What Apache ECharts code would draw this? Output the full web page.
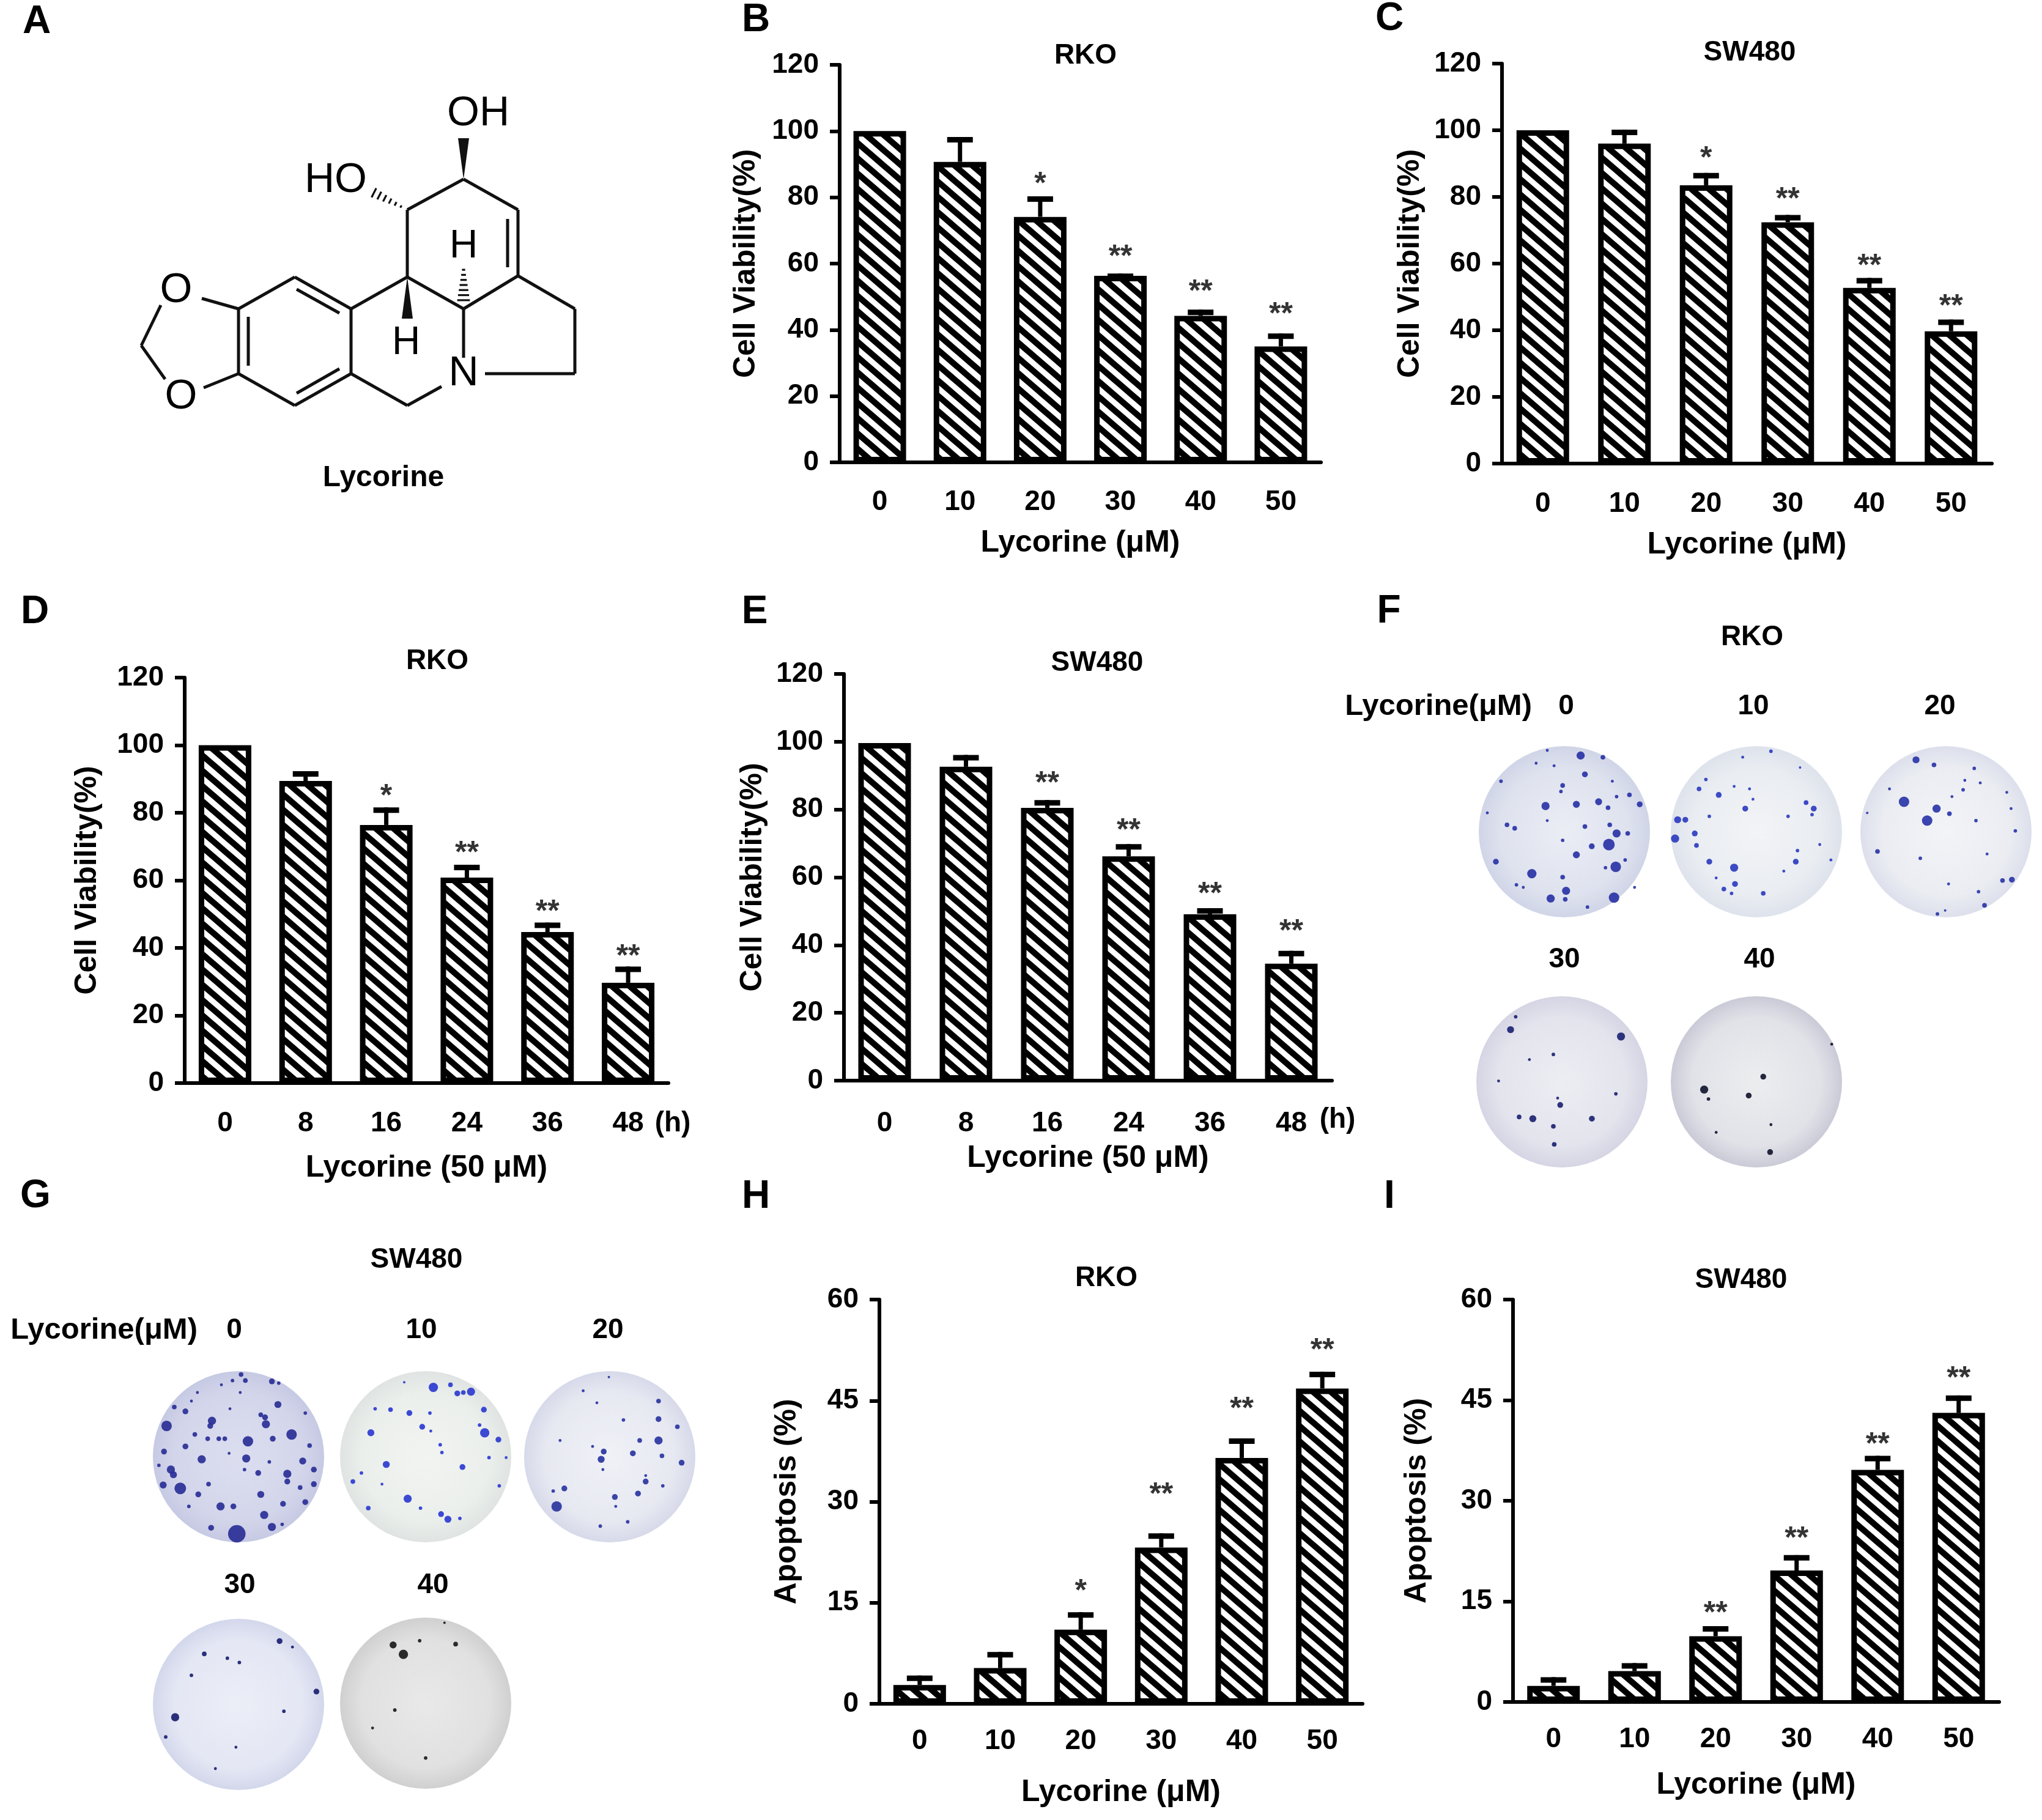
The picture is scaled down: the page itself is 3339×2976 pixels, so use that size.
<!DOCTYPE html>
<html>
<head>
<meta charset="utf-8">
<script src="https://cdn.jsdelivr.net/npm/echarts@6/dist/echarts.min.js"></script>
<style>html,body{margin:0;padding:0;background:#fff}#c{width:3339px;height:2976px}</style>
</head>
<body>
<div id="c"></div>
<script>
// ---------------- DATA ----------------
const doseCats = ['0', '10', '20', '30', '40', '50'];
const hourCats = ['0', '8', '16', '24', '36', '48'];

// B: RKO viability vs dose
const rkoDoseViab = [100, 90.7, 74.1, 56.3, 44.2, 35.0];
const rkoDoseViabSem = [0, 7.5, 6.2, 0.7, 1.9, 3.9];
const rkoDoseViabStars = ['', '', '*', '**', '**', '**'];
const rkoDoseViabStarAt = [null, null, 85.9, 64.1, 53.5, 46.7];

// C: SW480 viability vs dose
const swDoseViab = [100, 96.0, 83.5, 72.4, 52.7, 39.7];
const swDoseViabSem = [0, 4.2, 3.7, 2.2, 3.0, 3.5];
const swDoseViabStars = ['', '', '*', '**', '**', '**'];
const swDoseViabStarAt = [null, null, 93.5, 81.3, 61.2, 49.2];

// D: RKO viability vs time
const rkoTimeViab = [100, 89.4, 76.4, 60.8, 44.7, 29.7];
const rkoTimeViabSem = [0, 2.9, 5.2, 3.8, 2.8, 4.8];
const rkoTimeViabStars = ['', '', '*', '**', '**', '**'];
const rkoTimeViabStarAt = [null, null, 86.8, 70.0, 52.7, 39.5];

// E: SW480 viability vs time
const swTimeViab = [99.6, 92.6, 80.5, 66.2, 49.1, 34.5];
const swTimeViabSem = [0, 3.5, 2.3, 3.6, 1.8, 3.8];
const swTimeViabStars = ['', '', '**', '**', '**', '**'];
const swTimeViabStarAt = [null, null, 89.7, 75.7, 56.9, 46.0];

// H: RKO apoptosis vs dose
const rkoApop = [2.8, 5.3, 11.0, 23.2, 36.5, 46.8];
const rkoApopSem = [1.4, 2.4, 2.6, 2.1, 2.9, 2.5];
const rkoApopStars = ['', '', '*', '**', '**', '**'];
const rkoApopStarAt = [null, null, 17.7, 32.0, 44.7, 53.4];

// I: SW480 apoptosis vs dose
const swApop = [2.4, 4.6, 9.8, 19.6, 34.6, 43.1];
const swApopSem = [1.3, 1.2, 1.5, 2.3, 2.1, 2.6];
const swApopStars = ['', '', '**', '**', '**', '**'];
const swApopStarAt = [null, null, 14.2, 25.3, 39.4, 49.2];

// Colony plates: [x, y, diameter] in plate-relative units (x,y in -1..1, diameter as read)
const plateDoseLabels = ['0', '10', '20', '30', '40'];
const rkoCol0 = [[0.19,-0.89,14],[0.45,-0.87,8],[-0.20,-0.95,5],[0.24,-0.67,10],[-0.02,-0.54,8],[-0.04,-0.47,6],[-0.74,-0.59,6],[-0.22,-0.30,14],[0.14,-0.32,12],[0.40,-0.35,12],[0.51,-0.28,8],[0.61,-0.41,6],[0.76,-0.43,8],[0.88,-0.32,10],[-0.67,-0.08,8],[-0.58,-0.04,8],[0.24,-0.06,8],[0.53,-0.08,8],[0.74,0.02,8],[0.61,0.02,14],[0.52,0.15,20],[0.32,0.17,10],[0.14,0.27,12],[-0.02,0.10,6],[-0.80,0.35,10],[-0.38,0.49,16],[-0.02,0.53,8],[0.60,0.41,18],[0.58,0.77,18],[0.02,0.69,14],[-0.16,0.78,14],[0.01,0.79,8],[-0.56,0.62,6],[-0.48,0.65,5],[0.27,0.88,6],[0.71,0.33,6],[-0.20,-0.13,5],[0.48,0.42,6],[-0.12,-0.77,5],[0.56,-0.59,5],[-0.90,-0.22,5],[-0.33,-0.80,5],[0.82,0.65,5]];
const rkoCol10 = [[0.17,-0.94,6],[-0.16,-0.87,5],[-0.59,-0.61,6],[-0.67,-0.50,8],[-0.44,-0.43,10],[-0.26,-0.53,5],[-0.13,-0.27,10],[-0.04,-0.38,5],[0.58,-0.34,8],[0.67,-0.27,10],[0.65,-0.20,6],[-0.92,-0.14,12],[-0.83,-0.14,10],[-0.95,0.08,14],[-0.72,0.02,10],[-0.70,0.16,8],[-0.55,-0.18,6],[-0.55,0.35,10],[-0.26,0.42,14],[-0.25,0.61,10],[-0.38,0.67,8],[-0.29,0.72,6],[0.08,0.72,8],[0.46,0.35,10],[0.48,0.22,6],[0.37,-0.18,6],[0.74,0.15,5],[0.32,0.46,5],[0.87,0.33,5],[-0.47,0.54,5],[-0.08,-0.50,5],[0.51,-0.75,4]];
const rkoCol20 = [[-0.35,-0.84,12],[-0.14,-0.78,8],[0.33,-0.74,6],[-0.49,-0.35,18],[-0.11,-0.27,14],[-0.22,-0.13,18],[0.04,-0.21,8],[0.20,-0.49,6],[0.22,-0.60,5],[0.07,-0.41,5],[0.40,-0.57,5],[0.71,-0.46,5],[0.35,-0.13,6],[0.81,-0.01,6],[0.76,-0.27,5],[-0.80,0.23,8],[-0.30,0.31,6],[0.48,0.26,5],[0.66,0.57,8],[0.77,0.56,10],[0.03,0.61,5],[0.38,0.70,6],[0.45,0.86,8],[-0.10,0.96,6],[-0.66,-0.50,5],[-0.92,-0.22,4],[-0.01,0.92,4]];
const rkoCol30 = [[-0.54,-0.76,6],[-0.60,-0.61,12],[0.69,-0.53,14],[-0.10,-0.32,6],[-0.38,-0.26,5],[-0.74,-0.01,5],[0.63,0.14,6],[-0.02,0.27,10],[-0.05,0.19,5],[-0.50,0.41,8],[-0.34,0.43,12],[-0.10,0.52,8],[0.35,0.43,10],[-0.09,0.73,8]];
const rkoCol40 = [[0.08,-0.06,10],[-0.61,0.09,14],[-0.09,0.16,10],[0.88,-0.44,5],[0.17,0.50,5],[0.16,0.82,10],[-0.47,0.59,5],[-0.56,0.20,6]];
const swCol0 = [[0.03,-0.96,8],[-0.07,-0.89,6],[-0.20,-0.84,5],[0.08,-0.89,8],[0.39,-0.88,10],[0.47,-0.86,6],[-0.31,-0.42,14],[-0.33,-0.36,10],[-0.84,-0.36,18],[-0.62,-0.53,10],[-0.75,-0.58,8],[0.32,-0.38,14],[0.31,-0.46,10],[0.46,-0.61,12],[0.26,-0.49,8],[0.62,-0.26,18],[0.11,-0.18,18],[0.40,-0.21,10],[-0.23,-0.21,8],[-0.16,-0.21,8],[-0.36,-0.21,8],[-0.51,-0.26,8],[-0.62,-0.12,10],[-0.43,0.03,14],[-0.87,-0.06,10],[-0.79,0.15,14],[-0.76,0.21,12],[-0.88,0.33,12],[-0.68,0.37,20],[-0.47,0.44,10],[-0.35,0.32,8],[-0.21,0.58,14],[-0.06,0.58,10],[-0.02,0.90,30],[-0.32,0.83,10],[0.09,0.02,14],[0.07,0.15,6],[0.23,0.19,10],[0.26,0.44,12],[0.30,0.68,14],[0.39,0.82,14],[0.52,0.55,10],[0.57,0.20,14],[0.57,0.29,10],[0.75,0.05,12],[0.83,-0.13,8],[0.88,0.15,10],[0.88,0.32,10],[0.72,0.36,8],[0.78,0.53,10],[0.51,0.79,6],[-0.10,-0.56,5],[0.02,-0.75,5],[-0.48,-0.75,5],[-0.55,-0.65,5],[0.78,-0.51,6],[0.36,0.06,6],[-0.11,-0.04,5],[-0.93,0.10,6],[-0.58,0.58,6]];
const swCol10 = [[0.09,-0.81,16],[0.29,-0.84,8],[0.37,-0.74,10],[0.53,-0.76,14],[0.44,-0.75,8],[-0.41,-0.55,8],[-0.59,-0.56,6],[-0.19,-0.51,10],[0.05,-0.51,6],[0.68,-0.55,10],[-0.04,-0.35,10],[0.69,-0.28,16],[0.85,-0.20,10],[-0.64,-0.28,12],[-0.46,0.09,12],[0.17,-0.14,6],[0.19,-0.05,6],[0.43,0.12,10],[0.74,0.01,6],[0.94,0.01,5],[-0.85,0.29,8],[-0.75,0.19,6],[-0.21,0.49,14],[-0.06,0.60,6],[0.18,0.67,10],[0.26,0.73,12],[0.40,0.72,6],[-0.67,0.60,8],[0.86,0.34,6],[-0.51,0.32,5],[-0.25,-0.87,4],[0.63,-0.37,6],[0.06,-0.30,5]];
const swCol20 = [[-0.31,-0.77,5],[-0.15,-0.63,5],[0.16,-0.43,6],[0.57,-0.65,8],[0.57,-0.44,10],[0.35,-0.19,8],[0.57,-0.19,14],[0.79,-0.35,8],[0.61,-0.01,8],[0.84,0.07,10],[-0.07,-0.06,10],[-0.10,0.03,12],[0.27,-0.04,10],[-0.20,-0.12,5],[-0.08,0.15,5],[-0.53,0.37,10],[-0.62,0.58,18],[-0.66,0.40,6],[0.42,0.29,10],[0.62,0.34,6],[0.06,0.47,10],[0.07,0.58,5],[0.33,0.43,10],[0.21,0.76,6],[-0.11,0.81,6],[-0.58,-0.19,5],[-0.01,-0.93,4],[0.42,0.22,5]];
const swCol30 = [[-0.40,-0.59,8],[-0.13,-0.54,6],[0.01,-0.49,6],[0.48,-0.74,10],[0.63,-0.67,5],[-0.55,-0.34,6],[0.91,-0.15,10],[-0.74,0.15,14],[0.53,0.08,6],[-0.85,0.38,6],[-0.03,0.50,5],[-0.27,0.75,5]];
const swCol40 = [[-0.38,-0.68,12],[-0.26,-0.57,16],[-0.07,-0.73,6],[0.35,-0.69,8],[-0.36,0.08,6],[-0.62,0.29,5],[0.00,0.64,6],[0.22,-0.94,4]];

// ---------------- LAYOUT / STYLE ----------------
const FONT = '"Liberation Sans", Arial, Helvetica, sans-serif';
const BAR_LAYOUT = {
  B: {left: 1373, top: 106, width: 787, height: 650, lblM: 42, xGap: 107, yGap: 128},
  C: {left: 2456, top: 104, width: 801, height: 654, lblM: 43, xGap: 108, yGap: 125},
  D: {left: 302, top: 1108, width: 791, height: 663, lblM: 43, xGap: 114, yGap: 134},
  E: {left: 1380, top: 1102, width: 798, height: 665, lblM: 47, xGap: 102, yGap: 124},
  H: {left: 1438, top: 2125, width: 790, height: 661, lblM: 38, xGap: 120, yGap: 126},
  I: {left: 2474, top: 2125, width: 795, height: 658, lblM: 38, xGap: 111, yGap: 132}
};
const PLATE_R = 140;
const PLATES = [
  {cx: 2558, cy: 1360, data: rkoCol0, c: ['#e6e9f2', '#d6dbea', '#c4cae1'], dot: '#2a33a6'},
  {cx: 2872, cy: 1360, data: rkoCol10, c: ['#eff1f4', '#e4e8ee', '#d5dbe7'], dot: '#2d3cc0'},
  {cx: 3182, cy: 1360, data: rkoCol20, c: ['#f0f1f5', '#e6e8ef', '#d4d8e7'], dot: '#2a36a8'},
  {cx: 2554, cy: 1769, data: rkoCol30, c: ['#e8e8f0', '#dddde9', '#cacadd'], dot: '#1d2372'},
  {cx: 2872, cy: 1769, data: rkoCol40, c: ['#e6e9eb', '#d9dbe2', '#bdbdcd'], dot: '#12162f'},
  {cx: 390, cy: 2382, data: swCol0, c: ['#d3d6ec', '#c8cbe5', '#b8bcdc'], dot: '#2a2f96'},
  {cx: 696, cy: 2382, data: swCol10, c: ['#eef1ed', '#e6ebe7', '#d7dcda'], dot: '#2c3bd0'},
  {cx: 997, cy: 2382, data: swCol20, c: ['#eceef5', '#e1e3ee', '#cdd0e4'], dot: '#2a35a0'},
  {cx: 390, cy: 2787, data: swCol30, c: ['#e7eaf5', '#dde1f1', '#c8cde6'], dot: '#1a2070'},
  {cx: 696, cy: 2785, data: swCol40, c: ['#e3e3e3', '#d9d9d9', '#c4c4c4'], dot: '#1a1a1a'}
];

function makeHatch() {
  const w = 29, h = 25;
  const cv = document.createElement('canvas');
  cv.width = w; cv.height = h;
  const g = cv.getContext('2d');
  g.fillStyle = '#fff'; g.fillRect(0, 0, w, h);
  g.strokeStyle = '#000'; g.lineWidth = 10;
  for (let k = -1; k <= 1; k++) {
    g.beginPath(); g.moveTo(k * w - w, -h); g.lineTo(k * w + 2 * w, 2 * h); g.stroke();
  }
  return cv;
}
const HATCH = {image: makeHatch(), repeat: 'repeat'};

const grid = [], xAxis = [], yAxis = [], series = [];

function addBarChart(L, cats, means, sems, stars, starAt, yMax, yInt, xName, yName) {
  const gi = grid.length;
  grid.push({left: L.left, top: L.top, width: L.width, height: L.height, containLabel: false});
  xAxis.push({
    type: 'category', gridIndex: gi, data: cats,
    axisLine: {lineStyle: {color: '#000', width: 6}},
    axisTick: {alignWithLabel: true, length: 14, lineStyle: {color: '#000', width: 6}},
    axisLabel: {margin: L.lblM, fontSize: 46, fontWeight: 'bold', color: '#000', fontFamily: FONT},
    name: xName, nameLocation: 'middle', nameGap: L.xGap,
    nameTextStyle: {fontSize: 50, fontWeight: 'bold', color: '#000', fontFamily: FONT}
  });
  yAxis.push({
    type: 'value', gridIndex: gi, min: 0, max: yMax, interval: yInt,
    axisLine: {show: true, lineStyle: {color: '#000', width: 6}},
    axisTick: {show: true, length: 16, lineStyle: {color: '#000', width: 6}},
    splitLine: {show: false},
    axisLabel: {margin: 34, fontSize: 46, fontWeight: 'bold', color: '#000', fontFamily: FONT},
    name: yName, nameLocation: 'middle', nameGap: L.yGap,
    nameTextStyle: {fontSize: 50, fontWeight: 'bold', color: '#000', fontFamily: FONT}
  });
  series.push({
    type: 'bar', xAxisIndex: gi, yAxisIndex: gi, data: means, barWidth: 86,
    itemStyle: {color: HATCH, borderColor: '#000', borderWidth: 9},
    silent: true, z: 2
  });
  series.push({
    type: 'custom', xAxisIndex: gi, yAxisIndex: gi, z: 3, silent: true,
    data: means.map((m, i) => [i, m, sems[i]]),
    renderItem: function (params, api) {
      const i = api.value(0), m = api.value(1), s = api.value(2);
      if (!s) return null;
      const p0 = api.coord([i, m]);
      const p1 = api.coord([i, m + s]);
      const capW = 42, capH = 9, stemW = 7;
      return {
        type: 'group', children: [
          {type: 'rect', shape: {x: p0[0] - stemW / 2, y: p1[1], width: stemW, height: Math.max(0, p0[1] - p1[1])}, style: {fill: '#000'}},
          {type: 'rect', shape: {x: p1[0] - capW / 2, y: p1[1], width: capW, height: capH}, style: {fill: '#000'}}
        ]
      };
    }
  });
  series.push({
    type: 'scatter', xAxisIndex: gi, yAxisIndex: gi, silent: true, z: 4,
    symbolSize: 1, itemStyle: {color: 'rgba(0,0,0,0)'},
    data: stars.map((s, i) => s ? {value: [i, starAt[i]], name: s} : null).filter(d => d),
    label: {show: true, position: 'inside', formatter: '{b}', fontSize: 50, fontWeight: 'bold',
            color: '#000', fontFamily: FONT, offset: [0, 12]}
  });
}

addBarChart(BAR_LAYOUT.B, doseCats, rkoDoseViab, rkoDoseViabSem, rkoDoseViabStars, rkoDoseViabStarAt, 120, 20, 'Lycorine (μM)', 'Cell Viability(%)');
addBarChart(BAR_LAYOUT.C, doseCats, swDoseViab, swDoseViabSem, swDoseViabStars, swDoseViabStarAt, 120, 20, 'Lycorine (μM)', 'Cell Viability(%)');
addBarChart(BAR_LAYOUT.D, hourCats, rkoTimeViab, rkoTimeViabSem, rkoTimeViabStars, rkoTimeViabStarAt, 120, 20, 'Lycorine (50 μM)', 'Cell Viability(%)');
addBarChart(BAR_LAYOUT.E, hourCats, swTimeViab, swTimeViabSem, swTimeViabStars, swTimeViabStarAt, 120, 20, 'Lycorine (50 μM)', 'Cell Viability(%)');
addBarChart(BAR_LAYOUT.H, doseCats, rkoApop, rkoApopSem, rkoApopStars, rkoApopStarAt, 60, 15, 'Lycorine (μM)', 'Apoptosis (%)');
addBarChart(BAR_LAYOUT.I, doseCats, swApop, swApopSem, swApopStars, swApopStarAt, 60, 15, 'Lycorine (μM)', 'Apoptosis (%)');

// colony plates
PLATES.forEach(p => {
  const gi = grid.length;
  grid.push({left: p.cx - PLATE_R, top: p.cy - PLATE_R, width: 2 * PLATE_R, height: 2 * PLATE_R});
  xAxis.push({type: 'value', gridIndex: gi, min: -1, max: 1, show: false});
  yAxis.push({type: 'value', gridIndex: gi, min: -1, max: 1, inverse: true, show: false});
  series.push({
    type: 'scatter', xAxisIndex: gi, yAxisIndex: gi, silent: true, z: 1,
    data: [[0, 0]], symbolSize: 2 * PLATE_R,
    itemStyle: {color: new echarts.graphic.RadialGradient(0.5, 0.5, 0.5, [
      {offset: 0, color: p.c[0]}, {offset: 0.75, color: p.c[1]}, {offset: 1, color: p.c[2]}])}
  });
  series.push({
    type: 'scatter', xAxisIndex: gi, yAxisIndex: gi, silent: true, z: 2,
    data: p.data, symbolSize: v => Math.max(4, v[2] / 1.05),
    itemStyle: {color: p.dot, opacity: 0.92}
  });
});

// ---------------- GRAPHICS (labels + structure) ----------------
const G = [];
function txt(text, x, y, size, weight, align) {
  G.push({type: 'text', silent: true, style: {text: text, x: x, y: y, fill: '#000',
    font: (weight || 'bold') + ' ' + size + 'px ' + FONT,
    textAlign: align || 'center', textVerticalAlign: 'middle'}});
}
function ln(x1, y1, x2, y2, w) {
  G.push({type: 'line', silent: true, shape: {x1: x1, y1: y1, x2: x2, y2: y2},
    style: {stroke: '#111', lineWidth: w || 5, lineCap: 'butt'}});
}
function poly(pts) {
  G.push({type: 'polygon', silent: true, shape: {points: pts}, style: {fill: '#111'}});
}
function hashWedge(x1, y1, x2, y2, n, w0, w1) {
  const dx = x2 - x1, dy = y2 - y1, len = Math.hypot(dx, dy);
  const ux = dx / len, uy = dy / len, nx = -uy, ny = ux;
  for (let k = 0; k < n; k++) {
    const t = (k + 0.5) / n;
    const cx = x1 + dx * t, cy = y1 + dy * t;
    const hw = w0 + (w1 - w0) * t;
    ln(cx - nx * hw, cy - ny * hw, cx + nx * hw, cy + ny * hw, 3.2);
  }
}

// panel letters
txt('A', 60, 36, 64); txt('B', 1236, 33, 64); txt('C', 2272, 31, 64);
txt('D', 57, 1001, 64); txt('E', 1234, 1001, 64); txt('F', 2271, 1000, 64);
txt('G', 58, 1956, 64); txt('H', 1236, 1957, 64); txt('I', 2272, 1957, 64);

// chart titles
txt('RKO', 1775, 91, 46); txt('SW480', 2861, 86, 46);
txt('RKO', 715, 1081, 46); txt('SW480', 1794, 1084, 46);
txt('RKO', 1809, 2090, 46); txt('SW480', 2847, 2093, 46);
txt('(h)', 1100, 1837, 46); txt('(h)', 2187, 1831, 46);

// colony panel labels
txt('RKO', 2865, 1042, 46);
txt('Lycorine(μM)', 2505, 1155, 49, 'bold', 'right');
txt(plateDoseLabels[0], 2561, 1155, 46); txt(plateDoseLabels[1], 2867, 1155, 46); txt(plateDoseLabels[2], 3172, 1155, 46);
txt(plateDoseLabels[3], 2558, 1569, 46); txt(plateDoseLabels[4], 2877, 1569, 46);
txt('SW480', 681, 2060, 46);
txt('Lycorine(μM)', 323, 2175, 49, 'bold', 'right');
txt(plateDoseLabels[0], 383, 2175, 46); txt(plateDoseLabels[1], 689, 2175, 46); txt(plateDoseLabels[2], 994, 2175, 46);
txt(plateDoseLabels[3], 392, 2592, 46); txt(plateDoseLabels[4], 708, 2592, 46);

// Lycorine structure (panel A)
const A1 = [574, 505], A2 = [574, 611], A3 = [482, 663], A4 = [390, 611], A5 = [390, 505], A6 = [482, 453];
[[A1, A2], [A2, A3], [A3, A4], [A4, A5], [A5, A6], [A6, A1]].forEach(b => ln(b[0][0], b[0][1], b[1][0], b[1][1]));
ln(485, 473, 555, 512); ln(406, 518, 406, 598); ln(555, 603, 485, 643);
// dioxole
ln(390, 505, 330, 488); ln(263, 499, 231, 565); ln(231, 565, 270, 620); ln(333, 634, 390, 611);
txt('O', 288, 475, 68, 'normal'); txt('O', 296, 649, 68, 'normal');
// rings
const Ca = [666, 453], Cb = [758, 505], C2 = [666, 343], C1 = [758, 293], C3 = [847, 343], C4 = [847, 451], C5 = [940, 505], C6 = [940, 611];
ln(A1[0], A1[1], Ca[0], Ca[1]); ln(Ca[0], Ca[1], C2[0], C2[1]); ln(C2[0], C2[1], C1[0], C1[1]);
ln(C1[0], C1[1], C3[0], C3[1]); ln(C3[0], C3[1], C4[0], C4[1]); ln(830, 358, 830, 437);
ln(C4[0], C4[1], Cb[0], Cb[1]); ln(Ca[0], Ca[1], Cb[0], Cb[1]);
ln(Cb[0], Cb[1], 758, 585); ln(793, 611, C6[0], C6[1]); ln(C6[0], C6[1], C5[0], C5[1]); ln(C5[0], C5[1], C4[0], C4[1]);
ln(A2[0], A2[1], 666, 663); ln(666, 663, 722, 632);
txt('N', 758, 611, 68, 'normal');
// stereo bonds
poly([[758, 293], [749, 226], [767, 226]]);
txt('OH', 782, 186, 68, 'normal');
hashWedge(660, 340, 607, 313, 6, 1.5, 9);
txt('HO', 549, 295, 68, 'normal');
poly([[666, 453], [657, 521], [675, 521]]);
txt('H', 664, 561, 64, 'normal');
hashWedge(758, 437, 758, 495, 7, 2, 11);
txt('H', 758, 403, 64, 'normal');
txt('Lycorine', 627, 782, 48);

const chart = echarts.init(document.getElementById('c'), null, {renderer: 'canvas', width: 3339, height: 2976});
chart.setOption({
  backgroundColor: '#fff',
  animation: false,
  textStyle: {fontFamily: FONT},
  grid: grid, xAxis: xAxis, yAxis: yAxis, series: series,
  graphic: {elements: G}
});
</script>
</body>
</html>
